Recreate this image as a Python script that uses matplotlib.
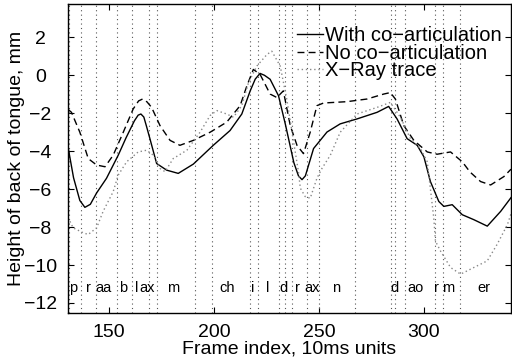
import matplotlib
matplotlib.use("Agg")
import matplotlib.pyplot as plt

plt.rcParams['font.family'] = ['Liberation Sans', 'DejaVu Sans']

# frame / value pairs
with_frames = [130.4, 133, 136, 138.4, 141, 144, 148.7, 154.3, 158, 162, 163.8, 165.1, 166.5, 167.8,
               169.4, 172.6, 177.4, 182.9, 190.1, 199.6, 207.6, 213.2, 217.2, 219.6, 221.9, 224,
               226.7, 230.7, 234, 238, 240.2, 241.9, 243.5, 247.4, 253.8, 260.1, 268.1, 277.7,
               283.2, 287.2, 292.0, 296.8, 300.0, 303.1, 307.1, 309.5, 313.5, 318.3, 323.8, 330.2,
               336.6, 341.5]
with_vals = [-3.8, -5.4, -6.6, -6.96, -6.8, -6.2, -5.43, -4.21, -3.3, -2.4, -2.1, -2.04, -2.2, -2.7,
             -3.34, -4.65, -5.0, -5.17, -4.68, -3.69, -2.91, -2.04, -0.82, -0.2, 0.10, 0.0,
             -0.21, -1.08, -2.6, -4.6, -5.3, -5.5, -5.3, -3.86, -2.99, -2.56, -2.30, -1.95,
             -1.64, -2.30, -3.34, -3.69, -4.3, -5.6, -6.65, -6.91, -6.82, -7.35, -7.61, -7.95,
             -7.17, -6.45]

noco_frames = [130.4, 132, 136, 140, 144, 148, 151.9, 156.7, 161.4, 164, 165.9, 168, 170.2, 174.2,
               179, 183.7, 190.1, 198.1, 206.0, 212.4, 215.6, 218.7, 221.9, 226.7, 229.9, 233,
               236.3, 239.5, 242.6, 245.8, 249, 252.2, 263.3, 272.9, 280.8, 284, 286.4, 290.4,
               295.2, 301.6, 306.3, 312.7, 318.3, 322, 327.0, 331.8, 338.1, 341.5]
noco_vals = [-1.8, -1.95, -3.0, -4.39, -4.73, -4.82, -4.21, -3.0, -1.78, -1.35, -1.25, -1.4, -1.69, -2.65,
             -3.43, -3.69, -3.43, -3.0, -2.47, -1.60, -0.56, 0.31, 0.05, -0.99, -1.17, -0.82,
             -2.65, -3.69, -4.13, -3.0, -1.6, -1.46, -1.39, -1.25, -0.99, -0.91, -1.25, -2.65,
             -3.43, -4.04, -4.16, -4.04, -4.56, -5.1, -5.6, -5.78, -5.34, -4.95]

xray_frames = [130.4, 132.8, 137.6, 140, 144, 147.1, 151.9, 154.3, 158.3, 163.8, 167.8, 171, 174.2,
               176.6, 180.5, 187, 193.3, 198.1, 201.3, 206, 209.2, 213.2, 216.4, 220.4, 225.2,
               227.5, 231.5, 234.7, 237.9, 240.2, 241.1, 243.4, 245.8, 249, 251.4, 255.4, 260.1,
               268.1, 277.7, 284, 288.8, 293.6, 298.4, 301.6, 304.7, 305.5, 307.9, 312.7, 317.5,
               323.8, 330.2, 334.9, 339.8, 341.5]
xray_vals = [-7.5, -8.04, -8.3, -8.39, -8.04, -7.17, -6.13, -5.26, -4.56, -4.04, -3.95, -4.21, -4.91,
             -5.08, -4.39, -3.95, -3.0, -2.12, -1.86, -2.04, -2.21, -1.6, -0.38, 0.49, 1.10,
             1.27, 0.49, -1.3, -3.52, -5.08, -5.95, -6.39, -6.48, -5.43, -4.91, -4.21, -3.0,
             -2.04, -1.69, -1.43, -2.21, -3.34, -3.86, -4.56, -7.52, -8.74, -9.26, -10.13, -10.48,
             -10.13, -9.78, -8.91, -7.87, -7.3]

boundaries = [131, 136.6, 143.6, 153.7, 160.7, 168.8, 172.6, 190.9, 198.9, 217.2, 220.8, 230.9,
              234.0, 237.2, 244.2, 250.0, 267.2, 284.5, 286.4, 291.2, 305.5, 309.1, 317.1]

phonemes = ['p', 'r', 'aa', 'b', 'l', 'ax', 'm', 'ch', 'i', 'l', 'd', 'r', 'ax', 'n',
            'd', 'ao', 'r', 'm', 'er']
phoneme_x = [132.9, 140.0, 147.2, 156.8, 163.2, 168.0, 180.6, 206.4, 218.5, 225.4, 233.1, 239.5,
             246.6, 258.0, 285.9, 296.2, 306.2, 311.5, 328.7]

fig = plt.figure(figsize=(5.12, 3.6), dpi=100)
ax = fig.add_axes([0.133, 0.131, 0.865, 0.858])

for b in boundaries:
    ax.axvline(b, color='#555555', linestyle=(0, (1, 3)), linewidth=0.8)

ax.plot(with_frames, with_vals, 'k-', linewidth=1.0, label='With co\u2212articulation')
ax.plot(noco_frames, noco_vals, 'k--', linewidth=1.0, dashes=(5, 3), label='No co\u2212articulation')
ax.plot(xray_frames, xray_vals, color='#888888', linestyle=(0, (1, 2)), linewidth=1.0,
        label='X\u2212Ray trace')

for p, x in zip(phonemes, phoneme_x):
    ax.text(x, -11.2, p, ha='center', va='center', fontsize=10.5)

ax.set_xlim(130.4, 341.5)
ax.set_ylim(-12.52, 3.76)
ax.set_xticks([150, 200, 250, 300])
ax.set_yticks([-12, -10, -8, -6, -4, -2, 0, 2])
ax.tick_params(direction='in', top=True, right=True, labelsize=14, length=4, width=0.8)
ax.tick_params(axis='x', pad=8)
ax.tick_params(axis='y', pad=20)
for lab in ax.get_yticklabels():
    lab.set_horizontalalignment('center')
for s in ax.spines.values():
    s.set_linewidth(1.0)

ax.set_xlabel('Frame index, 10ms units', fontsize=14, labelpad=0)
ax.set_ylabel('Height of back of tongue, mm', fontsize=14)
ax.yaxis.set_label_coords(-0.097, 0.5)

ax.legend(loc='upper left', bbox_to_anchor=(297 / 512, 1 - 26 / 360), bbox_transform=fig.transFigure,
          frameon=False, fontsize=14.5, handlelength=1.3, handletextpad=0.1, labelspacing=-0.07,
          borderpad=0, borderaxespad=0)

fig.savefig('out.png', dpi=100)
